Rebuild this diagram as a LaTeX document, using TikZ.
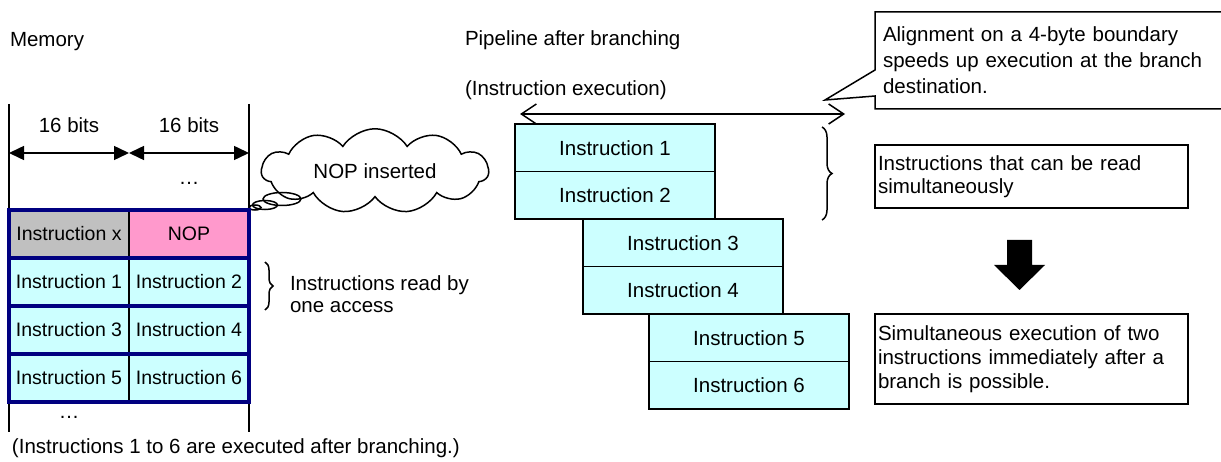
\documentclass[tikz,border=0pt]{standalone}
\usepackage{fontspec}
\setmainfont{Liberation Sans}
\usetikzlibrary{arrows.meta,shapes.symbols,shapes.callouts,decorations.pathreplacing}
\definecolor{cellcyan}{HTML}{CCFFFF}
\definecolor{cellpink}{HTML}{FF99CC}
\definecolor{cellgray}{HTML}{C0C0C0}
\definecolor{rownavy}{HTML}{000080}

\begin{document}
\begin{tikzpicture}[x=1pt,y=-1pt,
        every node/.style={font=\fontsize{20.5}{25}\selectfont, inner sep=0pt, outer sep=0pt},
        memcell/.style={minimum width=120, minimum height=48, font=\fontsize{19.5}{23}\selectfont},
        pipecell/.style={draw, line width=1.5, fill=cellcyan, minimum width=200, minimum height=47.5},
        notebox/.style={draw, line width=1.5, fill=white, align=left, inner xsep=3pt, text width=307},
        dimarrow/.style={{Triangle[length=15pt,width=14pt]}-{Triangle[length=15pt,width=14pt]}, line width=1.5},
        execarrow/.style={{Straight Barb[length=15pt,width=20pt]}-{Straight Barb[length=15pt,width=20pt]}, line width=1.5},
        bracket/.style={decorate, line width=1.5}]
        \useasboundingbox (0,0) rectangle (1221,462);
        
        % titles
        \node[anchor=west] (memlbl) at (10,42) {Memory};
        \node[anchor=west] (pipelbl) at (465,40) {Pipeline after branching};
        \node[anchor=west] (execlbl) at (465,90) {(Instruction execution)};
        
        % memory side lines
        \draw [line width=1.5] (9,104) -- (9,432);
        \draw [line width=1.5] (249,104) -- (249,432);
        
        % 16 bits
        \coordinate (wl) at (9,153);\coordinate (wm) at (129,153);\coordinate (wr) at (249,153);
        \draw [dimarrow] (wl) -- (wm);
        \draw [dimarrow] (wm) -- (wr);
        \node (bitsl) at (69,125) {16 bits};
        \node (bitsr) at (189,125) {16 bits};
        \node (dotstop) at (189,183) {\ldots};
        
        % NOP inserted
        \node[cloud, draw, line width=1.5, fill=white, cloud puffs=11, cloud puff arc=115, aspect=2.9,
            minimum width=227, minimum height=77] (nopcloud) at (375,171) {NOP inserted};
        \draw [line width=1.5] (282,199) ellipse (19 and 6.5);
        \draw [line width=1.5] (265,205) ellipse (12.5 and 4.5);
        \draw [line width=1.5] (255,207.5) ellipse (6 and 2.5);
        
        % memory cells
        \node[memcell, fill=cellgray] (mx) at (69,234) {Instruction x};
        \node[memcell, fill=cellpink] (mnop) at (189,234) {NOP};
        \node[memcell, fill=cellcyan] (m1) at (69,282) {Instruction 1};
        \node[memcell, fill=cellcyan] (m2) at (189,282) {Instruction 2};
        \node[memcell, fill=cellcyan] (m3) at (69,330) {Instruction 3};
        \node[memcell, fill=cellcyan] (m4) at (189,330) {Instruction 4};
        \node[memcell, fill=cellcyan] (m5) at (69,378) {Instruction 5};
        \node[memcell, fill=cellcyan] (m6) at (189,378) {Instruction 6};
        \draw [line width=1.5] (mx.north east) -- (m5.south east);
        \draw [rownavy, line width=3.5] (mx.north west) rectangle (mnop.south east);
        \draw [rownavy, line width=3.5] (m1.north west) rectangle (m2.south east);
        \draw [rownavy, line width=3.5] (m3.north west) rectangle (m4.south east);
        \draw [rownavy, line width=3.5] (m5.north west) rectangle (m6.south east);
        \node (dotsbot) at (69,417) {\ldots};
        
        % one access
        \draw [bracket, decoration={brace, amplitude=8}] (265,262) -- (265,310);
        \node[anchor=west, align=left, font=\fontsize{20.5}{22}\selectfont] (oneacc) at (290,294) {Instructions read by\\one access};
        
        \node[anchor=west] (execnote) at (12,448) {(Instructions 1 to 6 are executed after branching.)};
        
        % pipeline
        \coordinate (exl) at (520,114);\coordinate (exr) at (845,114);
        \draw [execarrow] (exl) -- (exr);
        \node[pipecell] (p1) at (615,147.75) {Instruction 1};
        \node[pipecell] (p2) at (615,195.25) {Instruction 2};
        \node[pipecell] (p3) at (683,242.75) {Instruction 3};
        \node[pipecell] (p4) at (683,290.25) {Instruction 4};
        \node[pipecell] (p5) at (749,337.75) {Instruction 5};
        \node[pipecell] (p6) at (749,385.25) {Instruction 6};
        
        % notes
        \coordinate (alntip) at (825,100);
        \node[rectangle callout, draw, line width=1.5, fill=white, align=left, inner xsep=8pt,
            text width=333, minimum height=97, callout absolute pointer={(alntip)}, callout pointer width=26pt,
            font=\fontsize{20.5}{26}\selectfont] (alnnote) at (1049.5,60.5) {Alignment on a 4-byte boundary\\speeds up execution at the branch\\destination.};
        \draw [bracket, decoration={brace, amplitude=10}] (822,127) -- (822,220);
        \node[notebox, minimum height=63, font=\fontsize{20.5}{23}\selectfont] (readnote) at (1031.5,176.5) {Instructions that can be read\\simultaneously};
        \fill (1007,240) -- (1032,240) -- (1032,265) -- (1045,265) -- (1019.5,290) -- (994,265) -- (1007,265) -- cycle;
        \node[notebox, minimum height=90, font=\fontsize{20.5}{24}\selectfont] (simnote) at (1031.5,359) {Simultaneous execution of two\\instructions immediately after a\\branch is possible.};
\end{tikzpicture}
\end{document}
